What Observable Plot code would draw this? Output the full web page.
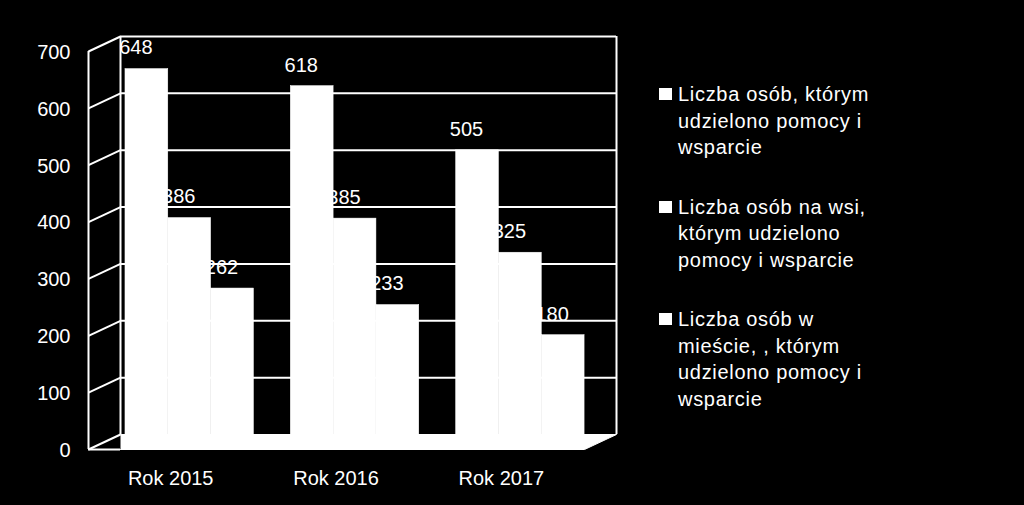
<!DOCTYPE html>
<html>
<head>
<meta charset="utf-8">
<script src="https://cdn.jsdelivr.net/npm/d3@7"></script>
<script src="https://cdn.jsdelivr.net/npm/@observablehq/plot@0.6"></script>
<style>
  html, body { margin: 0; padding: 0; background: #000; }
  #wrap { position: relative; width: 1024px; height: 505px; background: #000; overflow: hidden; }
  #chart { position: absolute; left: 0; top: 0; }
  #legend { position: absolute; left: 659px; top: 81px; font-family: "Liberation Sans", Arial, sans-serif; font-size: 20px; color: #fff; letter-spacing: 0.7px; }
  .item { display: flex; align-items: flex-start; margin-bottom: 33px; }
  .sw { width: 13px; height: 12px; background: #fff; margin-top: 7px; margin-right: 6px; flex: none; }
  .lbl { white-space: pre-line; line-height: 26.5px; }
</style>
</head>
<body>
<div id="wrap"><div id="chart"></div><div id="legend"></div></div>
<script>
// ---- data ----
const years = ["Rok 2015", "Rok 2016", "Rok 2017"];
const seriesNames = [
  "Liczba osób, którym\nudzielono pomocy i\nwsparcie",
  "Liczba osób na wsi,\nktórym udzielono\npomocy i wsparcie",
  "Liczba osób w\nmieście, , którym\nudzielono pomocy i\nwsparcie"
];
const totalAll = [648, 618, 505];
const totalVillage = [386, 385, 325];
const totalCity = [262, 233, 180];
const yTicks = [0, 100, 200, 300, 400, 500, 600, 700];

// ---- layout helpers (scale units) ----
const W = 640, H = 505;
const mL = 120, mR = 24, mT = 36, mB = 71;
const pxPerX = (W - mL - mR) / 3;
const pxPerY = (H - mT - mB) / 700;
const depthX = 32 / pxPerX;   // 3D depth offset in x units
const depthY = 15 / pxPerY;   // 3D depth offset in y units
const groupStart = 0.03, barW = 0.259;

const seriesVals = [totalAll, totalVillage, totalCity];
const rows = [];
years.forEach((yr, i) => {
  seriesVals.forEach((vals, s) => {
    const x1 = i + groupStart + s * barW;
    rows.push({year: yr, s, value: vals[i], x1, x2: x1 + barW, xm: x1 + barW / 2});
  });
});
const cats = years.map((yr, i) => ({year: yr, x: i + groupStart + 1.5 * barW}));
const floorPts = [
  {x: 0, y: 0}, {x: 3, y: 0}, {x: 3 - depthX, y: -depthY}, {x: 0, y: -depthY}
];

const chart = Plot.plot({
  width: W, height: H,
  marginLeft: mL, marginRight: mR, marginTop: mT, marginBottom: mB,
  style: {background: "#000", color: "#fff", fontFamily: "'Liberation Sans', Arial, sans-serif", fontSize: "20px"},
  x: {domain: [0, 3], axis: null},
  y: {domain: [0, 700], axis: null},
  marks: [
    // back wall grid
    Plot.ruleY(yTicks.filter(t => t > 0), {x1: 0, x2: 3, stroke: "#fff", strokeWidth: 2}),
    Plot.ruleX([0, 3], {y1: 0, y2: 700, stroke: "#fff", strokeWidth: 2}),
    // side wall slants
    Plot.link(yTicks, {x1: -depthX, y1: d => d - depthY, x2: 0, y2: d => d, stroke: "#fff", strokeWidth: 2}),
    Plot.ruleX([-depthX], {y1: -depthY, y2: 700 - depthY, stroke: "#fff", strokeWidth: 2}),
    // y tick labels (front plane)
    Plot.axisY({ticks: yTicks, tickSize: 0, tickPadding: 50, dy: 16, fill: "#fff", fontSize: 20}),
    // value labels
    Plot.text(rows, {x: "xm", y: "value", text: d => String(d.value), dx: -11, dy: -18, fill: "#fff", fontSize: 20, lineAnchor: "middle"}),
    // bars
    Plot.rect(rows, {x1: "x1", x2: "x2", y1: 0, y2: "value", fill: "#fff", stroke: "#fff", strokeWidth: 0.5, dy: 3}),
    // floor
    Plot.line(floorPts, {x: "x", y: "y", fill: "#fff", stroke: "#fff", strokeWidth: 1}),
    Plot.ruleY([-depthY], {x1: -depthX, x2: 0, stroke: "#fff", strokeWidth: 2}),
    // category labels
    Plot.text(cats, {x: "x", y: 0, text: "year", dx: -19, dy: 44, fill: "#fff", fontSize: 20, lineAnchor: "middle"})
  ]
});
document.getElementById("chart").appendChild(chart);

const legend = document.getElementById("legend");
seriesNames.forEach(name => {
  const item = document.createElement("div");
  item.className = "item";
  const sw = document.createElement("div");
  sw.className = "sw";
  const lbl = document.createElement("div");
  lbl.className = "lbl";
  lbl.textContent = name;
  item.appendChild(sw);
  item.appendChild(lbl);
  legend.appendChild(item);
});
</script>
</body>
</html>
